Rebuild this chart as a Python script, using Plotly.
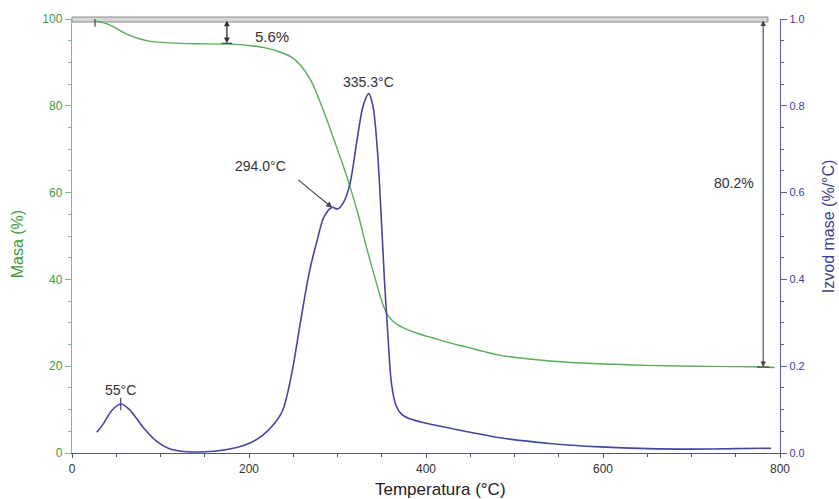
import plotly.graph_objects as go

# Thermogravimetric curve: temperature (°C) vs. remaining mass (%)
tg_temp = [27, 33, 45, 60, 75, 90, 110, 140, 175, 200, 220, 235, 248, 258, 270, 282,
           294, 304, 314, 324, 333, 342, 350, 356, 363, 371, 390, 408, 430, 446, 465,
           484, 520, 560, 600, 650, 700, 750, 781, 794]
tg_mass = [99.5, 99.3, 98.4, 96.7, 95.5, 94.8, 94.5, 94.3, 94.2, 93.9, 93.3, 92.4, 91.2,
           89.4, 85.8, 80.0, 73.4, 67.6, 61.5, 54.5, 47.2, 40.6, 35.0, 32.0, 30.3, 29.2,
           27.6, 26.5, 25.2, 24.4, 23.4, 22.5, 21.6, 20.9, 20.5, 20.2, 20.0, 19.9, 19.8,
           19.7]

# Derivative thermogravimetric curve (%/°C)
dtg_temp = [28, 35, 45, 55, 65, 80, 95, 110, 130, 160, 185, 201, 215, 228, 238, 248,
            258, 268, 277, 285, 294, 300, 307, 314, 322, 329, 335.3, 340, 345, 349, 353,
            357, 361, 366, 372, 380, 408, 450, 484, 540, 597, 650, 700, 750, 790]
dtg_val = [0.048, 0.066, 0.098, 0.113, 0.100, 0.060, 0.028, 0.010, 0.003, 0.004, 0.012,
           0.023, 0.040, 0.066, 0.098, 0.180, 0.300, 0.415, 0.490, 0.545, 0.566, 0.562,
           0.578, 0.620, 0.720, 0.800, 0.828, 0.800, 0.700, 0.560, 0.400, 0.270, 0.160,
           0.110, 0.090, 0.080, 0.065, 0.048, 0.035, 0.022, 0.014, 0.010, 0.009, 0.010,
           0.011]

# Labelled features
peak_temps = [55, 294.0, 335.3]
step_losses = [5.6, 80.2]

GREEN_TXT = "#3f9c3f"
GREEN_AX = "#79c279"
GREEN_LINE = "#5aab5a"
BLUE_TXT = "#3d3d96"
BLUE_AX = "#5c5caa"
BLUE_LINE = "#4646a0"
TXT = "#333333"
FONT = "Liberation Sans, Arial, sans-serif"

fig = go.Figure()

fig.add_trace(go.Scatter(
    x=tg_temp, y=tg_mass, mode="lines", yaxis="y",
    line=dict(color=GREEN_LINE, width=1.4, shape="spline", smoothing=1.0),
    showlegend=False, hoverinfo="skip"))

fig.add_trace(go.Scatter(
    x=dtg_temp, y=dtg_val, mode="lines", yaxis="y2",
    line=dict(color=BLUE_LINE, width=1.6, shape="spline", smoothing=0.9),
    showlegend=False, hoverinfo="skip"))

# small tick mark at the first DTG peak
fig.add_trace(go.Scatter(
    x=[peak_temps[0]], y=[dtg_val[dtg_temp.index(peak_temps[0])]], mode="markers",
    yaxis="y2", marker=dict(symbol="line-ns-open", size=9, color=BLUE_LINE,
                            line=dict(width=1.2, color=BLUE_LINE)),
    showlegend=False, hoverinfo="skip"))

annotations = []

# peak labels
annotations.append(dict(x=peak_temps[2], y=0.855, xref="x", yref="y2",
                        text=f"{peak_temps[2]:.1f}°C", showarrow=False,
                        font=dict(size=14, color=TXT, family=FONT)))
annotations.append(dict(x=213, y=0.661, xref="x", yref="y2",
                        text=f"{peak_temps[1]:.1f}°C", showarrow=False,
                        font=dict(size=14, color=TXT, family=FONT)))
annotations.append(dict(x=peak_temps[1], y=0.565, xref="x", yref="y2",
                        ax=254, ay=0.632, axref="x", ayref="y2", text="",
                        showarrow=True, arrowhead=2, arrowsize=1.1, arrowwidth=1.1,
                        arrowcolor="#444444"))
annotations.append(dict(x=peak_temps[0], y=0.145, xref="x", yref="y2",
                        text=f"{peak_temps[0]}°C", showarrow=False,
                        font=dict(size=14, color=TXT, family=FONT)))

# mass-loss steps, measured down from 100 %
annotations.append(dict(x=175, y=100 - step_losses[0], xref="x", yref="y",
                        ax=175, ay=100, axref="x", ayref="y", text="",
                        showarrow=True, arrowhead=2, startarrowhead=2,
                        arrowside="end+start", arrowsize=0.9, arrowwidth=1.3,
                        arrowcolor="#333333"))
annotations.append(dict(x=226, y=95.9, xref="x", yref="y",
                        text=f"{step_losses[0]}%", showarrow=False,
                        font=dict(size=15, color=TXT, family=FONT)))
annotations.append(dict(x=781, y=100 - step_losses[1], xref="x", yref="y",
                        ax=781, ay=100, axref="x", ayref="y", text="",
                        showarrow=True, arrowhead=2, startarrowhead=2,
                        arrowside="end+start", arrowsize=1, arrowwidth=1.1,
                        arrowcolor="#444444"))
annotations.append(dict(x=748, y=62.2, xref="x", yref="y",
                        text=f"{step_losses[1]}%", showarrow=False,
                        font=dict(size=14, color=TXT, family=FONT)))

# axis titles
annotations.append(dict(x=-0.077, y=0.482, xref="paper", yref="paper",
                        xanchor="center", yanchor="middle",
                        text="Masa (%)", textangle=-90, showarrow=False,
                        font=dict(size=16, color=GREEN_TXT, family=FONT)))
annotations.append(dict(x=1.068, y=0.523, xref="paper", yref="paper",
                        xanchor="center", yanchor="middle",
                        text="Izvod mase (%/°C)", textangle=-90, showarrow=False,
                        font=dict(size=16, color=BLUE_TXT, family=FONT)))
annotations.append(dict(x=0.52, y=-0.083, xref="paper", yref="paper",
                        xanchor="center", yanchor="middle",
                        text="Temperatura (°C)", showarrow=False,
                        font=dict(size=17, color="#222222", family=FONT)))

shapes = [
    # reference line at 100 %
    dict(type="rect", xref="paper", yref="paper", x0=0, x1=0.983,
         y0=0.993, y1=1.0046, fillcolor="#d6d6d6",
         line=dict(color="#8c8c8c", width=1), layer="below"),
    # start marker of the first step
    dict(type="line", xref="x", yref="y", x0=26, x1=26, y0=100, y1=98.2,
         line=dict(color="#444444", width=1.2)),
    # end bars of the step arrows
    dict(type="line", xref="x", yref="y", x0=169, x1=181,
         y0=100 - step_losses[0], y1=100 - step_losses[0],
         line=dict(color="#444444", width=1.2)),
    dict(type="line", xref="x", yref="y", x0=774, x1=788,
         y0=100 - step_losses[1], y1=100 - step_losses[1],
         line=dict(color="#444444", width=1.2)),
]

fig.update_layout(
    width=839, height=499,
    margin=dict(l=72, r=59, t=19, b=46),
    paper_bgcolor="white", plot_bgcolor="white",
    font=dict(family=FONT),
    xaxis=dict(range=[0, 800], tickvals=[0, 200, 400, 600, 800],
               showgrid=False, zeroline=False, showline=True,
               linecolor="#555566", linewidth=1.2,
               ticks="outside", ticklen=4, tickcolor="#555566",
               minor=dict(dtick=50, ticks="outside", ticklen=3, tickcolor="#555566"),
               tickfont=dict(size=12, color="#333333", family=FONT)),
    yaxis=dict(range=[0, 100], tickvals=[0, 20, 40, 60, 80, 100],
               showgrid=False, zeroline=False, showline=True,
               linecolor=GREEN_AX, linewidth=1.4,
               ticks="outside", ticklen=6, tickcolor=GREEN_AX,
               minor=dict(dtick=5, ticks="outside", ticklen=3, tickcolor=GREEN_AX),
               tickfont=dict(size=12, color=GREEN_TXT, family=FONT)),
    yaxis2=dict(range=[0, 1], overlaying="y", side="right", anchor="x",
                tickvals=[0, 0.2, 0.4, 0.6, 0.8, 1.0],
                ticktext=["0.0", "0.2", "0.4", "0.6", "0.8", "1.0"],
                showgrid=False, zeroline=False, showline=True,
                linecolor=BLUE_AX, linewidth=1.4,
                ticks="outside", ticklen=6, tickcolor=BLUE_AX,
                minor=dict(dtick=0.05, ticks="outside", ticklen=3, tickcolor=BLUE_AX),
                tickfont=dict(size=11, color=BLUE_TXT, family=FONT)),
    annotations=annotations,
    shapes=shapes,
)

fig.write_html("out.html")
